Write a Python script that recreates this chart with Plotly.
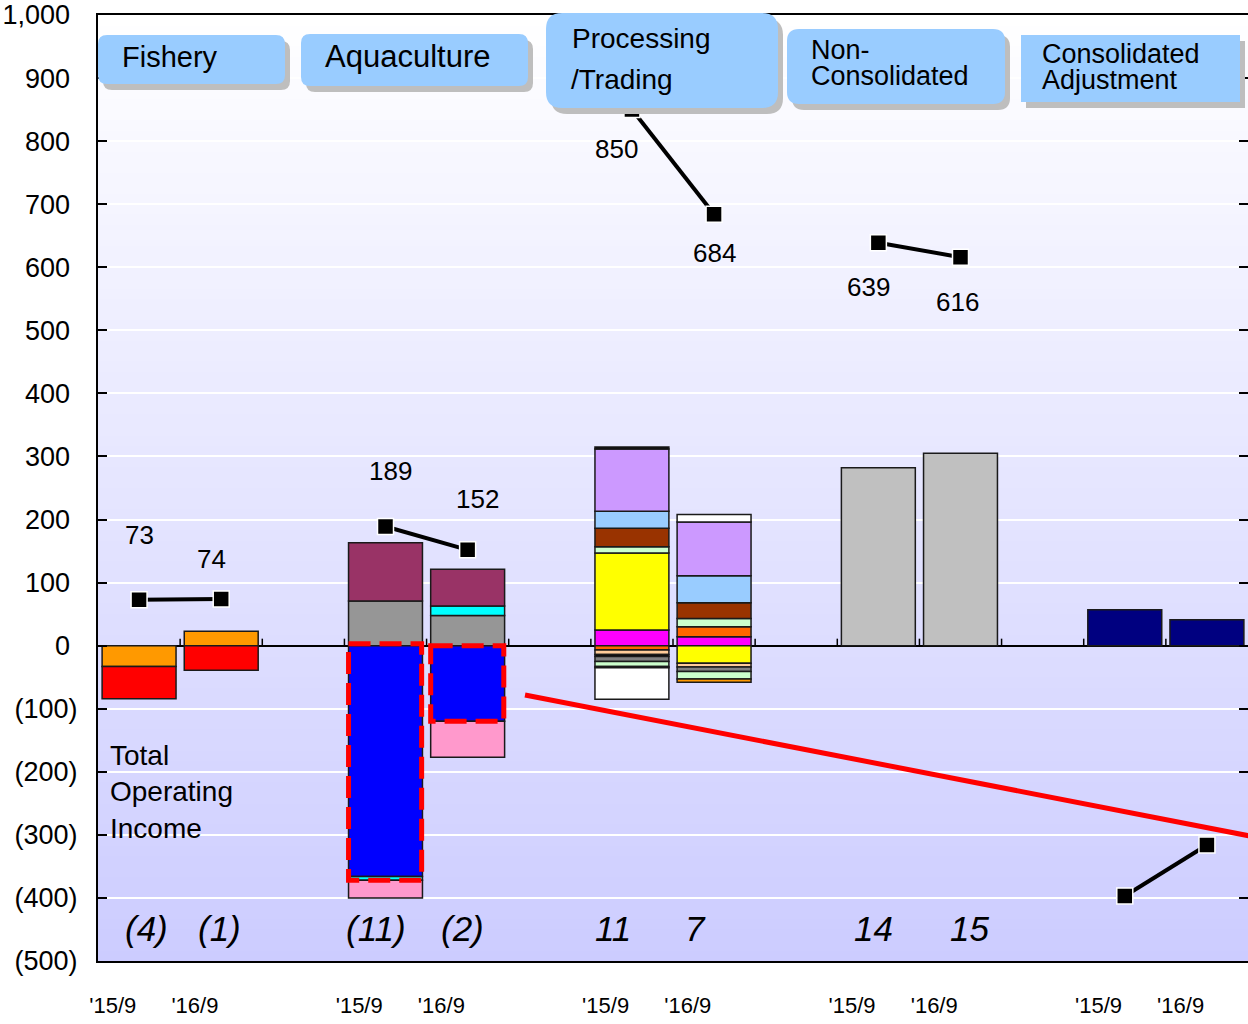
import plotly.graph_objects as go

# ---------------- data ----------------
sectors = ["Fishery", "Aquaculture", "Processing/Trading", "Non-Consolidated", "Consolidated Adjustment"]
periods = ["'15/9", "'16/9"]
sector_slots = [(0, 1), (3, 4), (6, 7), (9, 10), (12, 13)]
n_slots = 14

# stacked segments (value for '15/9, '16/9)
fishery_orange = [-33, 23]
fishery_red = [-51, -39]
aqua_gray = [71, 48]
aqua_blue = [-366, -120]
aqua_cyan = [-6, 15]
aqua_maroon = [92, 58]
aqua_pink = [-28, -57]
proc_magenta = [25, 14]
proc_yellow = [122, -28]
proc_orange = [-7, 16]
proc_lightgreen = [10, 13]
proc_peach = [-7, -6]
proc_brown = [29, 25]
proc_lightblue = [27, 43]
proc_lavender = [99, 85]
proc_black = [3, None]
proc_dark = [-3, None]
proc_gray = [-8, -7]
proc_lightgreen2 = [-8, -12]
proc_dark2 = [-2, None]
proc_orange2 = [None, -5]
proc_white = [-50, 12]
noncon_gray = [282, 305]
adjust_navy = [57, 41]

# line values per sector
fishery_line = [73, 74]
aquaculture_line = [189, 152]
processing_line = [850, 684]
noncon_line = [639, 616]
adjust_line = [-397, -316]

# total operating income per sector
fishery_op = [-4, -1]
aquaculture_op = [-11, -2]
processing_op = [11, 7]
noncon_op = [14, 15]

# ---------------- layout constants ----------------
W, H = 1248, 1024
ML, MR, MT, MB = 98, 0, 15, 63
PW, PH = W - ML - MR, H - MT - MB
FONT = "Liberation Sans, Arial, sans-serif"
FISH, AQUA, PROC, NONC, ADJ = sector_slots


def place(slots, vals):
    out = [None] * n_slots
    for s, v in zip(slots, vals):
        out[s] = v
    return out


def P(xpx, ypx):
    return (xpx - ML) / PW, (H - MB - ypx) / PH


fig = go.Figure()

bar_series = [
    (FISH, fishery_orange, "#FF9900"),
    (FISH, fishery_red, "#FF0000"),
    (AQUA, aqua_gray, "#969696"),
    (AQUA, aqua_blue, "#0000FF"),
    (AQUA, aqua_cyan, "#00FFFF"),
    (AQUA, aqua_maroon, "#993366"),
    (AQUA, aqua_pink, "#FF99CC"),
    (PROC, proc_magenta, "#FF00FF"),
    (PROC, proc_yellow, "#FFFF00"),
    (PROC, proc_orange, "#FF6600"),
    (PROC, proc_lightgreen, "#CCFFCC"),
    (PROC, proc_peach, "#FFCC99"),
    (PROC, proc_brown, "#993300"),
    (PROC, proc_lightblue, "#99CCFF"),
    (PROC, proc_lavender, "#CC99FF"),
    (PROC, proc_black, "#000000"),
    (PROC, proc_dark, "#000000"),
    (PROC, proc_gray, "#808080"),
    (PROC, proc_lightgreen2, "#CCFFCC"),
    (PROC, proc_dark2, "#000000"),
    (PROC, proc_orange2, "#FF9900"),
    (PROC, proc_white, "#FFFFFF"),
    (NONC, noncon_gray, "#C0C0C0"),
    (ADJ, adjust_navy, "#000080"),
]

xs = list(range(n_slots))
for slots, vals, col in bar_series:
    fig.add_trace(go.Bar(
        x=xs, y=place(slots, vals), width=0.9,
        marker=dict(color=col, line=dict(color="#1a1a1a", width=1.5)),
        showlegend=False, hoverinfo="skip",
    ))

# line trace
line_y = [None] * n_slots
for slots, vals in zip(sector_slots, [fishery_line, aquaculture_line, processing_line, noncon_line, adjust_line]):
    for s, v in zip(slots, vals):
        line_y[s] = v
fig.add_trace(go.Scatter(
    x=xs, y=line_y, mode="lines+markers", connectgaps=False,
    line=dict(color="black", width=4),
    marker=dict(symbol="square", size=16, color="black", line=dict(color="white", width=1.5)),
    showlegend=False, hoverinfo="skip",
))

annotations = []
# line value labels
label_shifts = [(0, 65), (-10, 40), (5, 55), (10, 51), (-15, -39), (0, -39), (-10, -44), (-3, -45)]
labelled = [(FISH, fishery_line), (AQUA, aquaculture_line), (PROC, processing_line), (NONC, noncon_line)]
k = 0
for slots, vals in labelled:
    for s, v in zip(slots, vals):
        dx, dy = label_shifts[k]
        k += 1
        annotations.append(dict(x=s, y=v, xref="x", yref="y", text=f"{v:,}", showarrow=False,
                                xanchor="center", yanchor="middle",
                                xshift=dx, yshift=dy, font=dict(family=FONT, size=26, color="black")))

# operating income labels
op_shifts = [7, -2, -10, -5, -19, -19, -5, 9]
k = 0
for slots, vals in [(FISH, fishery_op), (AQUA, aquaculture_op), (PROC, processing_op), (NONC, noncon_op)]:
    for s, v in zip(slots, vals):
        txt = f"({abs(v)})" if v < 0 else f"{v}"
        annotations.append(dict(x=s, y=P(0, 928)[1], xref="x", yref="paper", text=f"<i>{txt}</i>",
                                showarrow=False, xshift=op_shifts[k], xanchor="center", yanchor="middle",
                                font=dict(family=FONT, size=35, color="black")))
        k += 1

# Total Operating Income caption
tx, ty = P(108, 792)
annotations.append(dict(x=tx, y=ty, xref="paper", yref="paper", xanchor="left", yanchor="middle",
                        text="Total<br>Operating<br>Income", align="left", showarrow=False,
                        font=dict(family=FONT, size=28, color="black")))

shapes = []
# gradient background
NSTRIP = 90
for i in range(NSTRIP):
    t = (i + 0.5) / NSTRIP  # 0 at bottom
    r = int(round(204 + (255 - 204) * t))
    shapes.append(dict(type="rect", xref="x domain", yref="y domain", x0=0, x1=1,
                       y0=i / NSTRIP, y1=(i + 1) / NSTRIP + 0.002,
                       fillcolor=f"rgb({r},{r},255)", line=dict(width=0), layer="below"))

# small category boundary ticks on the zero line
for b in range(n_slots - 1):
    shapes.append(dict(type="line", xref="x", yref="y", x0=b + 0.5, x1=b + 0.5,
                       ysizemode="pixel", yanchor=0, y0=0, y1=7,
                       line=dict(color="black", width=1.5)))

# dashed highlight boxes around the blue segments
for s, blue, extra in [(AQUA[0], aqua_blue[0], aqua_cyan[0]), (AQUA[1], aqua_blue[1], 0)]:
    shapes.append(dict(type="rect", xref="x", yref="y", x0=s - 0.45, x1=s + 0.44,
                       y0=3 if extra else 0, y1=blue + extra,
                       line=dict(color="#FF0000", width=5, dash="22px,9px"), layer="above"))

# red diagonal line
x0, y0 = P(525, 695)
x1, y1 = P(1250, 836)
shapes.append(dict(type="line", xref="paper", yref="paper", x0=x0, y0=y0, x1=x1, y1=y1,
                   line=dict(color="#FF0000", width=5), layer="above"))


def rounded(xa, ya, xb, yb, r):
    # pixel coords (top-left xa,ya; bottom-right xb,yb)
    def p(x, y):
        px, py = P(x, y)
        return f"{px:.5f},{py:.5f}"
    if r <= 0:
        return f"M{p(xa,ya)} L{p(xb,ya)} L{p(xb,yb)} L{p(xa,yb)} Z"
    return (f"M{p(xa+r,ya)} L{p(xb-r,ya)} Q{p(xb,ya)} {p(xb,ya+r)} "
            f"L{p(xb,yb-r)} Q{p(xb,yb)} {p(xb-r,yb)} L{p(xa+r,yb)} "
            f"Q{p(xa,yb)} {p(xa,yb-r)} L{p(xa,ya+r)} Q{p(xa,ya)} {p(xa+r,ya)} Z")


headers = [
    (sectors[0], (98, 35, 285, 84, 9), [("Fishery", 120, 57, 29)]),
    (sectors[1], (301, 34, 528, 86, 9), [("Aquaculture", 323, 57, 31)]),
    (sectors[2], (546, 13, 778, 108, 16), [("Processing", 570, 39, 28), ("/Trading", 569, 79, 28)]),
    (sectors[3], (787, 29, 1005, 104, 12), [("Non-", 809, 50, 27), ("Consolidated", 809, 76, 27)]),
    (sectors[4], (1021, 35, 1240, 102, 0), [("Consolidated", 1040, 54, 27), ("Adjustment", 1040, 80, 27)]),
]
for name, (xa, ya, xb, yb, r), lines in headers:
    shapes.append(dict(type="path", xref="paper", yref="paper", path=rounded(xa + 5, ya + 6, xb + 5, yb + 6, r),
                       fillcolor="#BEBEBE", line=dict(width=0), layer="above"))
    shapes.append(dict(type="path", xref="paper", yref="paper", path=rounded(xa, ya, xb, yb, r),
                       fillcolor="#99CCFF", line=dict(width=0), layer="above"))
    for txt, lx, ly, fs in lines:
        ax, ay = P(lx, ly)
        annotations.append(dict(x=ax, y=ay, xref="paper", yref="paper", xanchor="left", yanchor="middle",
                                text=txt, showarrow=False, font=dict(family=FONT, size=fs, color="black")))

# axes
yticks = list(range(-500, 1001, 100))
ytext = [f"({abs(v)})" if v < 0 else f"{v:,}\u00a0" for v in yticks]
xtickvals, xticktext = [], []
for slots in sector_slots:
    for s, p in zip(slots, periods):
        xtickvals.append(s - 0.32)
        xticktext.append(p)

fig.update_layout(
    width=W, height=H,
    margin=dict(l=ML, r=MR, t=MT, b=MB, pad=0, autoexpand=False),
    paper_bgcolor="white", plot_bgcolor="rgba(0,0,0,0)",
    barmode="relative", bargap=0.1,
    showlegend=False,
    shapes=shapes, annotations=annotations,
    font=dict(family=FONT, color="black"),
    xaxis=dict(range=[-0.5, n_slots - 0.5], tickvals=xtickvals, ticktext=xticktext,
               showgrid=False, zeroline=False, showline=True, linecolor="black", linewidth=2,
               mirror=True, ticks="", ticklabelstandoff=24, automargin=False,
               tickfont=dict(family=FONT, size=22, color="black")),
    yaxis=dict(range=[-500, 1000], tickvals=yticks, ticktext=ytext,
               showgrid=True, gridcolor="white", gridwidth=2,
               zeroline=True, zerolinecolor="black", zerolinewidth=1.5,
               showline=True, linecolor="black", linewidth=2, mirror="ticks",
               ticks="inside", ticklen=9, tickwidth=1.5, tickcolor="black",
               ticklabelstandoff=13, automargin=False,
               tickfont=dict(family=FONT, size=27, color="black")),
)

fig.write_html("out.html", config={"displayModeBar": False},
               post_script="document.body.style.margin='0';document.body.style.padding='0';")
